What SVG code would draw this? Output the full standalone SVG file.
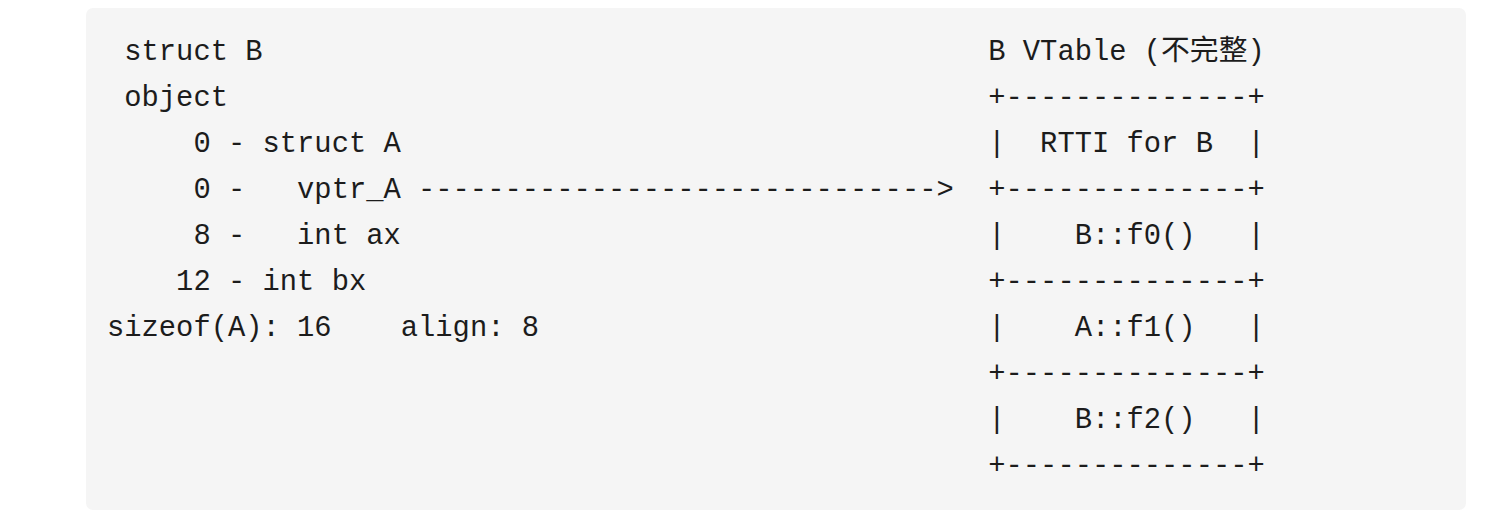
<svg xmlns="http://www.w3.org/2000/svg" width="1492" height="523" viewBox="0 0 1492 523">
<style>
  text { font-family: "Liberation Mono", "Noto Sans CJK SC", monospace; font-size: 28.8px; fill: #1c1c1c; white-space: pre; }
</style>
<rect x="86" y="8" width="1380" height="502" rx="7" fill="#f5f5f5"/>
<g id="struct_B">
  <text x="107" y="59.5" xml:space="preserve"> struct B</text>
  <text x="107" y="105.5" xml:space="preserve"> object</text>
  <text x="107" y="151.5" xml:space="preserve">     0 - struct A</text>
  <text x="107" y="197.5" xml:space="preserve">     0 -   vptr_A</text>
  <text x="107" y="243.5" xml:space="preserve">     8 -   int ax</text>
  <text x="107" y="289.5" xml:space="preserve">    12 - int bx</text>
  <text x="107" y="335.5" xml:space="preserve">sizeof(A): 16    align: 8</text>
</g>
<g id="connectors">
  <text x="418.04" y="197.5" xml:space="preserve">------------------------------&gt;</text>
</g>
<g id="B_VTable">
  <text x="988.28" y="59.5" xml:space="preserve">B VTable (不完整)</text>
  <text x="988.28" y="105.5" xml:space="preserve">+--------------+</text>
  <text x="988.28" y="151.5" xml:space="preserve">|  RTTI for B  |</text>
  <text x="988.28" y="197.5" xml:space="preserve">+--------------+</text>
  <text x="988.28" y="243.5" xml:space="preserve">|    B::f0()   |</text>
  <text x="988.28" y="289.5" xml:space="preserve">+--------------+</text>
  <text x="988.28" y="335.5" xml:space="preserve">|    A::f1()   |</text>
  <text x="988.28" y="381.5" xml:space="preserve">+--------------+</text>
  <text x="988.28" y="427.5" xml:space="preserve">|    B::f2()   |</text>
  <text x="988.28" y="473.5" xml:space="preserve">+--------------+</text>
</g>
</svg>
